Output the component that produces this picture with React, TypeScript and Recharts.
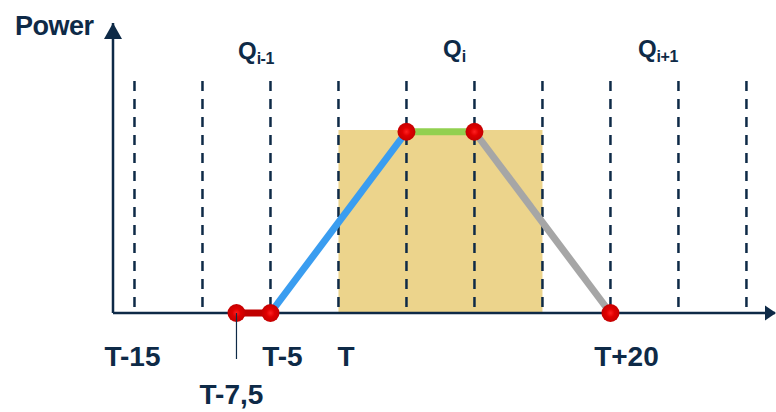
import { ComposedChart, Line, Scatter, XAxis, YAxis, ReferenceLine, ReferenceArea, ReferenceDot } from "recharts";

// time in minutes relative to T, power in % of the plateau
const gridTimes = [-15, -10, -5, 0, 5, 10, 15, 20, 25, 30];
const tickTimes = [-15, -7.5, -5, 0, 20];
const tickLabels = ["T-15", "T-7,5", "T-5", "T", "T+20"];
const quarterStarts = [-15, 0, 15];
const quarterNames = ["i-1", "i", "i+1"];
const windowStart = 0;
const windowEnd = 15;
const windowPower = 101;
const rampTimes = [-7.5, -5, 5, 10, 20];
const rampPower = [0, 0, 100, 100, 0];

const points = rampTimes.map((t, i) => ({ t, p: rampPower[i] }));
const segment = (i: number) => [points[i], points[i + 1]];

const navy = "#0E2A47";
const font = "'Liberation Sans', Arial, sans-serif";
const xMin = -16.58;
const xMax = 32.1;
const yMax = 160;

const tickDx = [-2, -5, 12, 7.5, 16];

function TimeTick(props: any) {
  const { x, payload } = props;
  const y = 313;
  const i = tickTimes.indexOf(payload.value);
  const drop = payload.value === -7.5;
  return (
    <g>
      {drop && <line x1={x} y1={y} x2={x} y2={y + 46} stroke={navy} strokeWidth={1.2} />}
      <text x={x + tickDx[i]} y={y + (drop ? 91 : 53)} textAnchor="middle" fontFamily={font} fontWeight="bold" fontSize={28} fill={navy}>
        {tickLabels[i]}
      </text>
    </g>
  );
}

const qDx = [1.5, 2.5, -6.5];
const qDy = [36, 33.5, 34];

function QuarterLabel(i: number) {
  return (p: any) => (
    <text x={p.cx + qDx[i]} y={p.cy + qDy[i]} fontFamily={font} fontWeight="bold" fill={navy}>
      <tspan fontSize={24}>Q</tspan>
      <tspan fontSize={16} dy={5} letterSpacing={-0.5}>{quarterNames[i]}</tspan>
    </text>
  );
}

const RedDot = (p: any) => <circle cx={p.cx} cy={p.cy} r={9} fill="url(#dotFill)" />;

export default function App() {
  return (
    <div style={{ position: "absolute", left: 0, top: 0, background: "#fff" }}>
      <ComposedChart width={776} height={412} margin={{ top: 23, right: 1, bottom: 0, left: 113 }}>
        <defs>
          <radialGradient id="dotFill" cx="50%" cy="50%" r="50%">
            <stop offset="0%" stopColor="#FF2020" />
            <stop offset="45%" stopColor="#E00000" />
            <stop offset="100%" stopColor="#C40000" />
          </radialGradient>
        </defs>
        <XAxis
          type="number"
          dataKey="t"
          domain={[xMin, xMax]}
          ticks={tickTimes}
          interval={0}
          axisLine={false}
          tickLine={false}
          tickSize={0}
          tickMargin={0}
          height={99}
          tick={<TimeTick />}
        />
        <YAxis type="number" dataKey="p" domain={[0, yMax]} hide />
        <ReferenceArea x1={windowStart} x2={windowEnd} y1={0} y2={windowPower} fill="#ECD48C" fillOpacity={1} stroke="none" />
        {gridTimes.map((t) => (
          <ReferenceLine
            key={t}
            segment={[{ x: t, y: 128 }, { x: t, y: 0 }]}
            stroke={navy}
            strokeWidth={2.5}
            strokeDasharray="10 8"
          />
        ))}
        <ReferenceLine y={0} stroke={navy} strokeWidth={2.5} ifOverflow="visible" />
        <ReferenceLine x={xMin} stroke={navy} strokeWidth={2.5} ifOverflow="visible" />
        <ReferenceDot
          x={xMax}
          y={0}
          ifOverflow="visible"
          shape={(p: any) => <path d={`M${p.cx + 1},${p.cy} L${p.cx - 10},${p.cy - 7.5} L${p.cx - 10},${p.cy + 7.5} Z`} fill={navy} />}
        />
        <ReferenceDot
          x={xMin}
          y={yMax}
          ifOverflow="visible"
          shape={(p: any) => (
            <g>
              <path d={`M${p.cx},${p.cy} L${p.cx - 9},${p.cy + 16} L${p.cx + 9},${p.cy + 16} Z`} fill={navy} />
              <text x={p.cx - 98} y={p.cy + 12} fontFamily={font} fontWeight="bold" fontSize={27} letterSpacing={-0.5} fill={navy}>
                Power
              </text>
            </g>
          )}
        />
        {quarterStarts.map((s, i) => (
          <ReferenceDot key={s} x={s + 7.5} y={yMax} ifOverflow="visible" shape={QuarterLabel(i)} />
        ))}
        <Line data={segment(0)} dataKey="p" stroke="#C00000" strokeWidth={7} dot={false} isAnimationActive={false} />
        <Line data={segment(1)} dataKey="p" stroke="#3A9DF0" strokeWidth={7} dot={false} isAnimationActive={false} />
        <Line data={segment(2)} dataKey="p" stroke="#92D050" strokeWidth={7} dot={false} isAnimationActive={false} />
        <Line data={segment(3)} dataKey="p" stroke="#A6A6A6" strokeWidth={7} dot={false} isAnimationActive={false} />
        <Scatter data={points} dataKey="p" shape={RedDot} isAnimationActive={false} />
      </ComposedChart>
    </div>
  );
}
